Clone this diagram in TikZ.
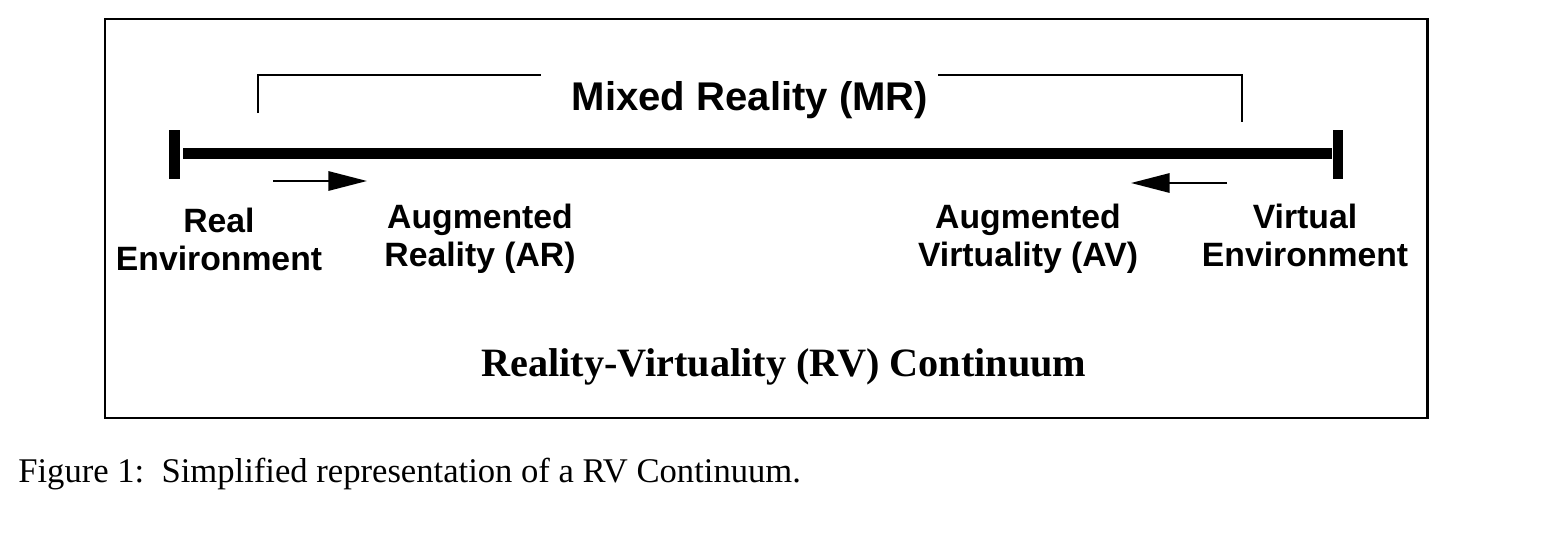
\documentclass[tikz,border=0pt]{standalone}
\usepackage{fontspec}
\setmainfont{Liberation Serif}
\setsansfont{Liberation Sans}
\usetikzlibrary{arrows.meta}
\begin{document}
\begin{tikzpicture}[x=0.02cm,y=-0.02cm,
  frame/.style={line width=1.7pt},
  tickbar/.style={fill=black, inner sep=0, minimum width=6.2pt, minimum height=27.8pt},
  axis/.style={line width=6.2pt},
  bracket/.style={line width=1.1pt},
  shiftarrow/.style={line width=1.15pt, -{Triangle[length=22pt, width=11pt]}},
  lbl/.style={font=\sffamily\bfseries\fontsize{19.2}{21.5}\selectfont, align=center, inner sep=0, anchor=base},
  mrlbl/.style={font=\sffamily\bfseries\fontsize{22.8}{26}\selectfont, inner sep=0},
  title/.style={font=\rmfamily\bfseries\fontsize{22.9}{26}\selectfont, inner sep=0},
  caption/.style={font=\rmfamily\fontsize{19.7}{22}\selectfont, inner sep=0}]
\useasboundingbox (0,0) rectangle (1555,534);

% outer frame
\draw[frame] (105,19) rectangle (1427,418);

% continuum axis with end ticks
\node[tickbar] (re) at (174.5,154.5) {};
\node[tickbar] (ve) at (1338,154.5) {};
\draw[axis] (re.east) ++(3,-1) coordinate (a0) -- (a0 -| ve.west);

% mixed reality bracket
\node[mrlbl, anchor=base] (mr) at (750,110) {Mixed Reality (MR)};
\coordinate (bl) at (258,113);
\coordinate (br) at (1242,122);
\coordinate (tl) at (541,75);
\coordinate (tr) at (938,75);
\draw[bracket] (bl) |- (tl);
\draw[bracket] (tr) -| (br);

% shift arrows
\coordinate (ar0) at (273,181);
\coordinate (ar1) at (367,181);
\coordinate (av0) at (1227,183);
\coordinate (av1) at (1131,183);
\draw[shiftarrow] (ar0) -- (ar1);
\draw[shiftarrow] (av0) -- (av1);

% region labels (anchored on the baseline of the last line)
\node[lbl] (real) at (219,270) {Real\\Environment};
\node[lbl] (ar) at (480,266) {Augmented\\Reality (AR)};
\node[lbl] (av) at (1028,266) {Augmented\\Virtuality (AV)};
\node[lbl] (virt) at (1305,266) {Virtual\\Environment};

% title and caption
\node[title, anchor=base] (rv) at (784,376) {Reality-Virtuality (RV) Continuum};
\node[caption, anchor=base west] (cap) at (18,482) {Figure 1:\ \ Simplified representation of a RV Continuum.};
\end{tikzpicture}
\end{document}
